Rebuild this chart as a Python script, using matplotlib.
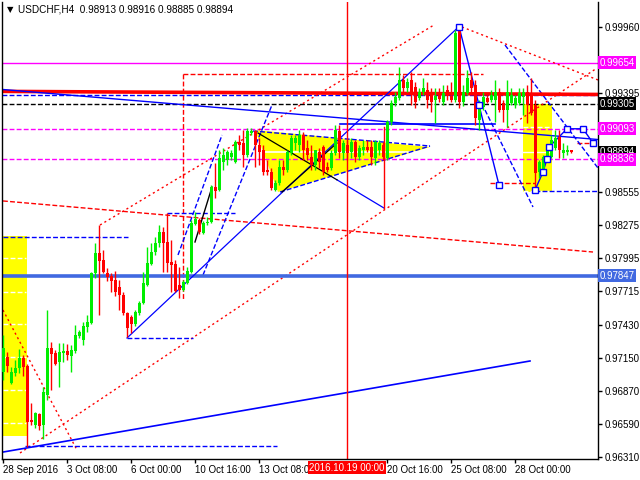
import numpy as np
import matplotlib.pyplot as plt
import matplotlib.transforms as mtransforms

plt.rcParams['font.family'] = ['Liberation Sans', 'DejaVu Sans']

# H4 candles, bar 0 = 28 Sep 2016 16:00
opens = [0.97030, 0.97158, 0.96937, 0.97022, 0.97064, 0.97149, 0.97081, 0.96623, 0.96581, 0.96674,
         0.96581, 0.96835, 0.97234, 0.97192, 0.97115, 0.97192, 0.97209, 0.97166, 0.97209, 0.97336,
         0.97302, 0.97412, 0.97446, 0.97870, 0.98040, 0.97980, 0.97870, 0.97844, 0.97811, 0.97751,
         0.97683, 0.97531, 0.97497, 0.97437, 0.97531, 0.97616, 0.97768, 0.97946, 0.98048, 0.98124,
         0.98218, 0.98133, 0.97963, 0.97946, 0.97768, 0.97726, 0.97785, 0.97878, 0.98286, 0.98319,
         0.98209, 0.98294, 0.98302, 0.98599, 0.98574, 0.98811, 0.98828, 0.98854, 0.98811, 0.98981,
         0.98972, 0.98871, 0.99057, 0.99074, 0.98955, 0.98913, 0.98743, 0.98726, 0.98574, 0.98633,
         0.98769, 0.98743, 0.98888, 0.98972, 0.98955, 0.99040, 0.98930, 0.98854, 0.98786, 0.98896,
         0.98938, 0.98769, 0.98760, 0.98888, 0.99074, 0.98888, 0.98955, 0.98896, 0.98981, 0.98854,
         0.98913, 0.98938, 0.98938, 0.98845, 0.98913, 0.98955, 0.98845, 0.99150, 0.99312, 0.99354,
         0.99507, 0.99439, 0.99507, 0.99447, 0.99354, 0.99405, 0.99422, 0.99379, 0.99337, 0.99388,
         0.99320, 0.99422, 0.99371, 0.99337, 0.99931, 0.99320, 0.99396, 0.99507, 0.99464, 0.99167,
         0.99278, 0.99354, 0.99337, 0.99337, 0.99405, 0.99312, 0.99252, 0.99312, 0.99295, 0.99312,
         0.99362, 0.99405, 0.99379, 0.99295, 0.98726, 0.98743, 0.98828, 0.98854, 0.98930, 0.99023,
         0.98888, 0.98896, 0.98913]
highs = [0.97344, 0.97200, 0.97073, 0.97132, 0.97225, 0.97175, 0.97098, 0.96768, 0.96691, 0.96680,
         0.96903, 0.97556, 0.97285, 0.97217, 0.97276, 0.97276, 0.97268, 0.97259, 0.97429, 0.97387,
         0.97454, 0.97514, 0.97878, 0.98124, 0.98277, 0.98065, 0.97912, 0.97870, 0.97887, 0.97811,
         0.97709, 0.97539, 0.97514, 0.97556, 0.97632, 0.97878, 0.98090, 0.98124, 0.98175, 0.98277,
         0.98260, 0.98379, 0.98150, 0.97980, 0.97921, 0.97811, 0.97921, 0.98319, 0.98387, 0.98336,
         0.98311, 0.98345, 0.98616, 0.98803, 0.98913, 0.98930, 0.98913, 0.98913, 0.98998, 0.99040,
         0.99083, 0.99100, 0.99100, 0.99083, 0.99015, 0.98955, 0.98828, 0.98760, 0.98659, 0.98828,
         0.98828, 0.98913, 0.99040, 0.99040, 0.99083, 0.99066, 0.98998, 0.98955, 0.98913, 0.98930,
         0.98955, 0.98811, 0.98913, 0.99125, 0.99125, 0.98998, 0.98998, 0.99015, 0.98998, 0.98955,
         0.98998, 0.98998, 0.98998, 0.98998, 0.98998, 0.98981, 0.99167, 0.99337, 0.99405, 0.99617,
         0.99549, 0.99524, 0.99574, 0.99490, 0.99439, 0.99524, 0.99490, 0.99439, 0.99439, 0.99439,
         0.99464, 0.99464, 0.99490, 0.99931, 0.99960, 0.99464, 0.99591, 0.99574, 0.99507, 0.99337,
         0.99405, 0.99379, 0.99422, 0.99507, 0.99439, 0.99337, 0.99507, 0.99439, 0.99379, 0.99439,
         0.99439, 0.99464, 0.99524, 0.99337, 0.98828, 0.98871, 0.98955, 0.99040, 0.99083, 0.99083,
         0.98972, 0.98955, 0.98916]
lows = [0.96963, 0.97030, 0.96929, 0.96996, 0.97022, 0.96996, 0.96394, 0.96581, 0.96556, 0.96539,
        0.96462, 0.96793, 0.96878, 0.97090, 0.96903, 0.97115, 0.97132, 0.97030, 0.97192, 0.97319,
        0.97259, 0.97370, 0.97437, 0.97828, 0.97514, 0.97870, 0.97802, 0.97709, 0.97675, 0.97556,
        0.97514, 0.97327, 0.97361, 0.97421, 0.97514, 0.97607, 0.97760, 0.97938, 0.98023, 0.98090,
        0.97878, 0.97878, 0.97709, 0.97709, 0.97658, 0.97717, 0.97777, 0.97870, 0.98277, 0.98201,
        0.98201, 0.98277, 0.98294, 0.98506, 0.98565, 0.98743, 0.98786, 0.98828, 0.98803, 0.98913,
        0.98769, 0.98854, 0.99040, 0.98769, 0.98786, 0.98701, 0.98701, 0.98574, 0.98565, 0.98616,
        0.98701, 0.98726, 0.98871, 0.98913, 0.98896, 0.98828, 0.98828, 0.98743, 0.98743, 0.98760,
        0.98701, 0.98726, 0.98743, 0.98871, 0.98845, 0.98828, 0.98828, 0.98845, 0.98811, 0.98828,
        0.98871, 0.98896, 0.98786, 0.98786, 0.98871, 0.98828, 0.98828, 0.99125, 0.99286, 0.99337,
        0.99379, 0.99405, 0.99295, 0.99269, 0.99337, 0.99379, 0.99269, 0.99235, 0.99142, 0.99320,
        0.99295, 0.99337, 0.99320, 0.99320, 0.99269, 0.99286, 0.99379, 0.99405, 0.99125, 0.99083,
        0.99252, 0.99312, 0.99320, 0.99150, 0.99235, 0.99150, 0.99108, 0.99295, 0.99269, 0.99295,
        0.99210, 0.99142, 0.99210, 0.98574, 0.98676, 0.98726, 0.98811, 0.98845, 0.98913, 0.98845,
        0.98845, 0.98871, 0.98885]
closes = [0.97234, 0.97081, 0.97030, 0.97064, 0.97149, 0.97073, 0.96606, 0.96606, 0.96683, 0.96573,
          0.96861, 0.97234, 0.97183, 0.97098, 0.97200, 0.97209, 0.97175, 0.97217, 0.97344, 0.97370,
          0.97421, 0.97454, 0.97870, 0.98040, 0.97972, 0.97878, 0.97836, 0.97802, 0.97709, 0.97683,
          0.97531, 0.97404, 0.97437, 0.97539, 0.97616, 0.97785, 0.97955, 0.98048, 0.98124, 0.98218,
          0.98124, 0.97955, 0.97938, 0.97717, 0.97726, 0.97794, 0.97887, 0.98294, 0.98328, 0.98218,
          0.98294, 0.98302, 0.98599, 0.98565, 0.98845, 0.98871, 0.98896, 0.98888, 0.98981, 0.98955,
          0.98871, 0.99074, 0.99074, 0.98955, 0.98896, 0.98726, 0.98726, 0.98591, 0.98633, 0.98769,
          0.98743, 0.98896, 0.99015, 0.99015, 0.99040, 0.98913, 0.98871, 0.98786, 0.98913, 0.98811,
          0.98726, 0.98743, 0.98888, 0.99083, 0.98896, 0.98972, 0.98888, 0.98981, 0.98854, 0.98930,
          0.98938, 0.98913, 0.98854, 0.98981, 0.98972, 0.98854, 0.99150, 0.99312, 0.99362, 0.99507,
          0.99439, 0.99490, 0.99405, 0.99320, 0.99405, 0.99439, 0.99337, 0.99320, 0.99371, 0.99345,
          0.99396, 0.99371, 0.99337, 0.99905, 0.99320, 0.99405, 0.99524, 0.99439, 0.99184, 0.99312,
          0.99362, 0.99320, 0.99379, 0.99405, 0.99252, 0.99252, 0.99405, 0.99379, 0.99354, 0.99396,
          0.99405, 0.99295, 0.99227, 0.98718, 0.98811, 0.98854, 0.98913, 0.98998, 0.99015, 0.98913,
          0.98913, 0.98913, 0.98894]

xtick_bars = [0, 16, 32, 48, 64, 96, 112, 128]
xtick_labels = ['28 Sep 2016', '3 Oct 08:00', '6 Oct 00:00', '10 Oct 16:00',
                '13 Oct 08:00', '20 Oct 16:00', '25 Oct 08:00', '28 Oct 00:00']
ytick_vals = [0.99960, 0.99395, 0.98555, 0.98275, 0.97995, 0.97715,
              0.97430, 0.97150, 0.96870, 0.96590, 0.96310]

# horizontal levels
lvl_magenta = 0.99654
lvl_black = 0.99305
lvl_mag_dash = [0.99093, 0.98836]
lvl_blue = 0.97847
bid = 0.98894
cursor_bar = 86

fig = plt.figure(figsize=(6.4, 4.8), dpi=100)
ax = fig.add_axes([2/640, 21/480, 596/640, 457/480])
ax.set_xlim(-0.25, 148.75)
ax.set_ylim(0.96293, 1.00168)

DASH = (0, (3.5, 1.6))
DOT = (0, (1.5, 2.2))

# yellow boxes
ax.fill_between([-0.25, 6], 0.96488, 0.98184, color='#ffff00', lw=0, zorder=1)
for p in [0.97997, 0.97709, 0.97438, 0.97158, 0.96878, 0.96598]:
    ax.plot([0, 5.8], [p, p], color='white', ls=DASH, lw=1, zorder=1.2)
ax.plot([0, 31.25], [0.98175, 0.98175], color='#0000ff', ls=DASH, lw=1, zorder=1.5)

ax.fill_between([130, 137.3], 0.98557, 0.99303, color='#ffff00', lw=0, zorder=1)
ax.plot([130, 137.3], [0.99108, 0.99108], color='white', ls=DASH, lw=1, zorder=1.2)
ax.plot([130, 137.3], [0.98896, 0.98896], color='white', lw=1, zorder=1.2)
ax.plot([130, 137.3], [0.98565, 0.98565], color='white', ls=DASH, lw=1, zorder=1.2)

tri_x = [63, 68.75, 106.75]
tri_y = [0.99083, 0.98557, 0.98938]
ax.fill(tri_x, tri_y, color='#ffff00', lw=0, zorder=1)
ax.plot([64, 104], [0.98896, 0.98896], color='white', lw=1.2, zorder=1.2)
ax.plot([62.5, 106.75], [0.99074, 0.98947], color='#0000ff', ls=DASH, lw=1, zorder=1.5)
ax.plot([69.25, 106.75], [0.98557, 0.98947], color='#0000ff', ls=DASH, lw=1, zorder=1.5)

# full width levels
ax.axhline(lvl_magenta, color='#ff00ff', lw=1, zorder=1.5)
ax.plot([-0.25, 148.75], [0.99410, 0.99384], color='#ff0000', lw=2.6, zorder=1.6)
ax.axhline(0.99379, color='#0000ff', ls=DASH, lw=1, zorder=1.5)
ax.axhline(lvl_black, color='black', ls=DASH, lw=1, zorder=1.5)
for p in lvl_mag_dash:
    ax.axhline(p, color='#ff00ff', ls=DASH, lw=1, zorder=1.5)
ax.axhline(lvl_blue, color='#4169e1', lw=2.6, zorder=1.6)

# red dotted fan lines
ax.plot([4.25, 148.5], [0.96344, 0.99608], color='#ff0000', ls=DOT, lw=1, zorder=1.5)
ax.plot([24.25, 107.5], [0.98277, 0.99968], color='#ff0000', ls=DOT, lw=1, zorder=1.5)
ax.plot([0, 147.5], [0.98481, 0.98048], color='#ff0000', ls=DASH, lw=1, zorder=1.5)
ax.plot([114.75, 148.75], [0.99956, 0.99507], color='#ff0000', ls=DOT, lw=1, zorder=1.5)
ax.plot([0, 18.5], [0.97556, 0.96369], color='#ff0000', ls=DOT, lw=1, zorder=1.5)
ax.plot([45, 120], [0.99557, 0.99557], color='#ff0000', ls=DASH, lw=1, zorder=1.5)
ax.plot([45, 45], [0.99557, 0.97639], color='#ff0000', ls=DASH, lw=1, zorder=1.5)
ax.plot([121.75, 133], [0.98633, 0.98633], color='#ff0000', ls=DASH, lw=1, zorder=1.5)
ax.plot([143.5, 148.5], [0.98972, 0.98972], color='#ff0000', ls=DASH, lw=1, zorder=1.5)

# blue lines
ax.plot([0, 148.75], [0.99426, 0.99002], color='#0000ff', lw=1, zorder=1.6)
ax.plot([84.25, 123], [0.99133, 0.99133], color='#0000ff', lw=1.2, zorder=1.6)
ax.plot([0, 131.75], [0.96352, 0.97124], color='#0000ff', lw=1.2, zorder=1.6)
ax.plot([5.5, 68.5], [0.96403, 0.96403], color='#0000ff', ls=DASH, lw=1, zorder=1.5)
ax.plot([31, 47.5], [0.97319, 0.97319], color='#0000ff', ls=DASH, lw=1, zorder=1.5)
ax.plot([41, 58], [0.98379, 0.98379], color='#0000ff', ls=DASH, lw=1, zorder=1.5)
ax.plot([43.75, 54.75], [0.98023, 0.99040], color='#0000ff', ls=DASH, lw=1, zorder=1.5)
ax.plot([50, 67.25], [0.97853, 0.99295], color='#0000ff', ls=DASH, lw=1, zorder=1.5)
ax.plot([125.5, 148.75], [0.99803, 0.98760], color='#0000ff', ls=DASH, lw=1, zorder=1.5)
ax.plot([120.5, 132.5], [0.99252, 0.98430], color='#0000ff', ls=DASH, lw=1, zorder=1.5)
ax.plot([133, 148.75], [0.98565, 0.98565], color='#0000ff', ls=DASH, lw=1, zorder=1.5)

# wave lines
ax.plot([31, 114], [0.97319, 0.99960], color='#0000ff', lw=0.9, zorder=1.7)
ax.plot([69.75, 83.5], [0.98557, 0.98972], color='black', lw=0.9, zorder=1.8)
ax.plot([63.75, 83.5], [0.99057, 0.98660], color='black', lw=0.9, zorder=1.8)
ax.plot([83.5, 95.25], [0.98660, 0.98421], color='#0000ff', lw=0.9, zorder=1.7)
ax.plot([95.25, 95.25], [0.99108, 0.98421], color='#ff0000', lw=1, zorder=1.7)
ax.plot([48, 52.25], [0.98133, 0.98599], color='black', lw=1, zorder=1.8)

zz_x = [114, 119, 124]
zz_y = [0.99960, 0.99295, 0.98616]
ax.plot(zz_x, zz_y, color='#0000ff', lw=1, zorder=1.7)
zz2_x = [133, 135, 136, 136.5, 141, 145, 147.5]
zz2_y = [0.98574, 0.98726, 0.98837, 0.98938, 0.99093, 0.99093, 0.98972]
ax.plot(zz2_x, zz2_y, color='#0000ff', lw=1, zorder=1.7)
ax.plot(zz_x + zz2_x, zz_y + zz2_y, ls='none', marker='s', ms=4.5, mfc='white',
        mec='#0000ff', mew=1, zorder=4)

# candles
idx = np.arange(len(opens))
o = np.array(opens)
c = np.array(closes)
cols = np.where(c >= o, '#00ee00', '#ff0000')
ax.vlines(idx, lows, highs, colors=cols, lw=1, zorder=3)
ax.bar(idx, np.maximum(np.abs(c - o), 0.00004), bottom=np.minimum(o, c),
       width=0.75, color=cols, lw=0, zorder=3)

# cursor
ax.axvline(cursor_bar, color='#ff0000', lw=1, zorder=2)

# axes styling
ax.spines['top'].set_visible(False)
for s in ['left', 'right', 'bottom']:
    ax.spines[s].set_color('black')
    ax.spines[s].set_linewidth(1)
ax.yaxis.tick_right()
ax.set_yticks(ytick_vals)
ax.set_yticklabels(['%.5f' % v for v in ytick_vals])
ax.set_xticks(xtick_bars)
ax.set_xticklabels(xtick_labels, ha='left')
ax.tick_params(axis='both', direction='out', length=3, width=1, labelsize=7,
               colors='black', pad=1.5)

tr = mtransforms.blended_transform_factory(ax.transAxes, ax.transData)
def level_box(p, bg):
    ax.text(1.003, p, '%.5f' % p, transform=tr, va='center', ha='left', fontsize=7,
            color='white', clip_on=False, zorder=6,
            bbox=dict(boxstyle='square,pad=0.15', fc=bg, ec='none'))
level_box(lvl_magenta, '#ff00ff')
level_box(lvl_black, 'black')
level_box(lvl_mag_dash[0], '#ff00ff')
level_box(bid, 'black')
level_box(lvl_mag_dash[1], '#ff00ff')
level_box(lvl_blue, '#4169e1')

trx = mtransforms.blended_transform_factory(ax.transData, ax.transAxes)
ax.text(cursor_bar, -0.008, '2016.10.19 00:00', transform=trx, ha='center', va='top',
        fontsize=7, color='white', clip_on=False, zorder=6,
        bbox=dict(boxstyle='square,pad=0.15', fc='#ff0000', ec='none'))

fig.text(7/640, 1 - 10/480, '\u25bc', fontsize=6, va='center', ha='left', color='black',
         family=['DejaVu Sans'])
fig.text(18/640, 1 - 10/480, 'USDCHF,H4  0.98913 0.98916 0.98885 0.98894', fontsize=7.2,
         va='center', ha='left', color='black')

fig.savefig('out.png', dpi=100)
